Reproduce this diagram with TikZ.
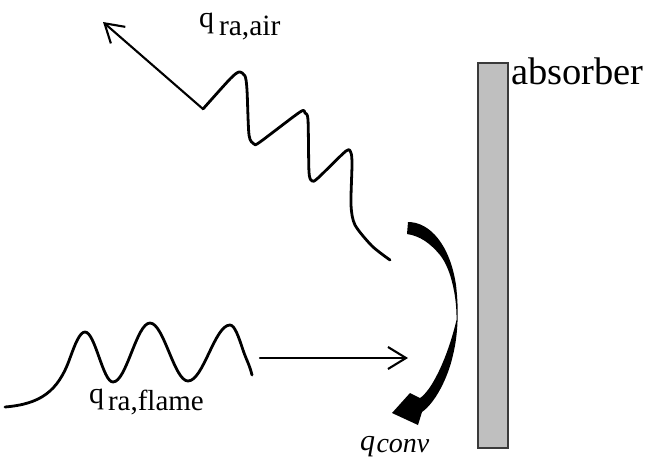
\documentclass[tikz,border=0pt]{standalone}
\usepackage{fontspec}
\setmainfont{Liberation Serif}
\usetikzlibrary{arrows.meta}
\definecolor{absfill}{HTML}{BFBFBF}
\definecolor{absedge}{HTML}{3A3A3A}
\tikzset{
  wave/.style={line width=2.8pt, line cap=round, line join=round},
  ray/.style={line width=2.1pt, line cap=round, -{Straight Barb[length=18pt,width=22pt]}},
  lbl/.style={inner sep=0pt, outer sep=0pt, anchor=base west, font=\fontsize{30}{32}\selectfont},
}
\begin{document}
\begin{tikzpicture}[x=1pt,y=-1pt]
\useasboundingbox (0,0) rectangle (646,459);
% absorber plate
\node[draw=absedge, fill=absfill, line width=1.5pt, minimum width=30pt, minimum height=385pt, inner sep=0pt, anchor=north west] (absorber) at (477,62) {};
\node[lbl, font=\fontsize{38.5}{40}\selectfont] (abslabel) at (511,84) {absorber};
% labels
\node[lbl] (qair) at (199,27) {q\hspace{5pt}\raisebox{-8pt}{\fontsize{29.5}{30}\selectfont ra,air}};
\node[lbl] (qflame) at (89,403) {q\hspace{4pt}\raisebox{-7pt}{\fontsize{29}{30}\selectfont ra,flame}};
\node[lbl] (qconv) at (360,450) {\itshape q\hspace{1.5pt}\raisebox{-2.5pt}{\fontsize{28}{30}\selectfont conv}};
% reflected radiation to air
\coordinate (airC) at (203,109);
\coordinate (airTip) at (103,22);
\draw[ray] (airC) -- (airTip);
\draw[wave] plot[smooth, tension=0.45] coordinates {(203,109) (230,79) (239,72) (245,76) (247,90) (249,135) (254,144) (260,142) (300,112) (305,113) (308,120) (309,172) (312,181) (318,178) (346,151) (351,153) (352,165) (351,205) (355,225) (372,246) (390,260)};
% flame radiation
\draw[wave] (5,407) .. controls (40,404) and (58,392) .. (70,358) sin (85,332) cos (99,357) sin (113,382) cos (131.5,352.5) sin (150,323) cos (169,352) sin (188,381) cos (209,353) sin (230,325) cos (243,350) .. controls (246,359) and (250,366) .. (252,375);
\coordinate (hS) at (260,358);
\coordinate (hT) at (408,358);
\draw[ray] (hS) -- (hT);
% convection curved arrow
\fill (408,222) .. controls (430,222) and (450,245) .. (456,285) .. controls (459,310) and (458,335) .. (453,355) .. controls (448,378) and (435,403) .. (422,412) -- (418,425) -- (392,413) -- (410,393) -- (420,398) .. controls (431,391) and (447,360) .. (456.5,320) .. controls (457,300) and (452,270) .. (440,255) .. controls (430,243) and (420,236) .. (407,234) -- cycle;
\end{tikzpicture}
\end{document}
